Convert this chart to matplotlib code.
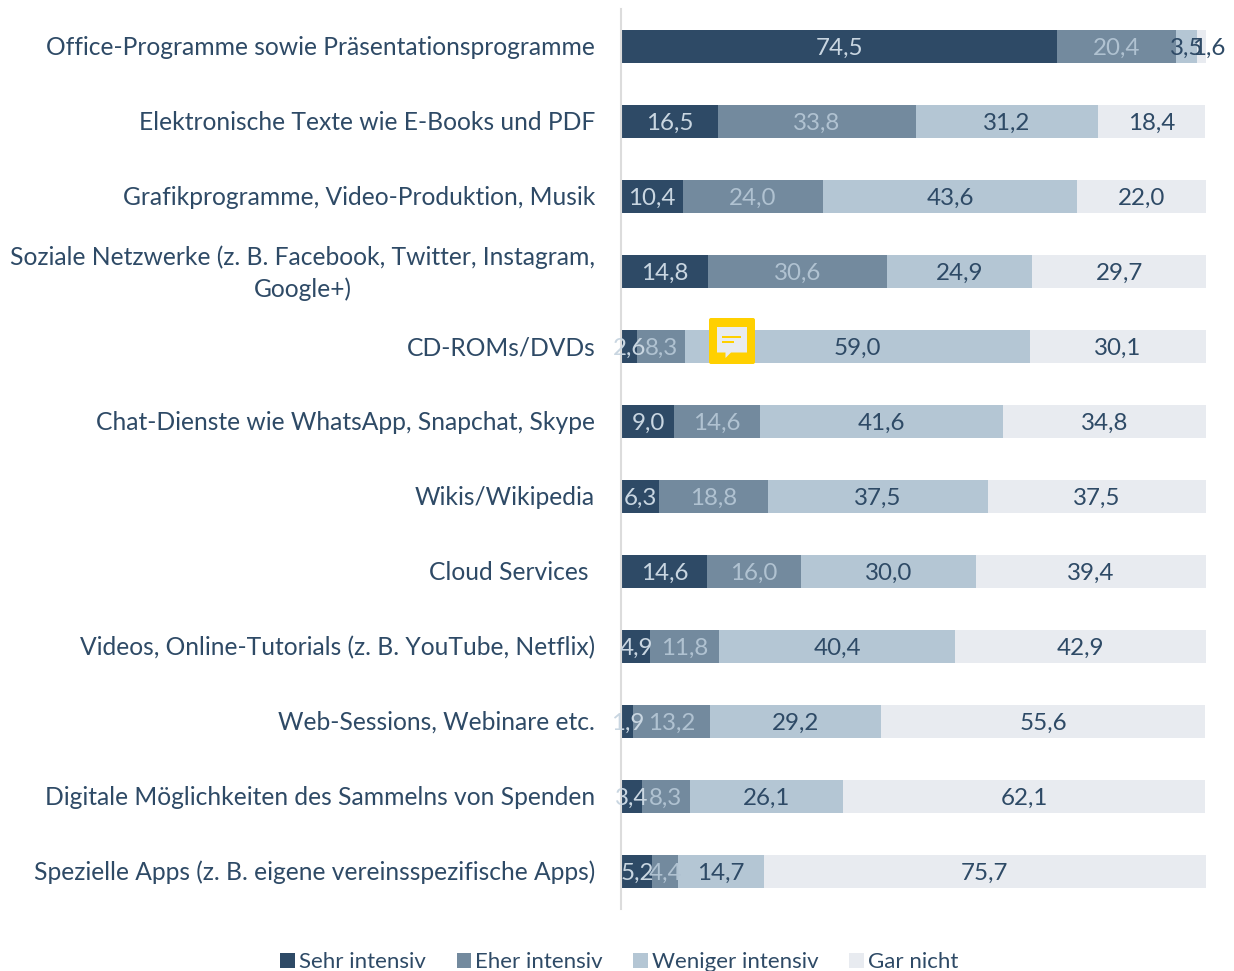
import matplotlib
matplotlib.use("Agg")
import matplotlib.pyplot as plt
from matplotlib.patches import FancyBboxPatch, Polygon, Rectangle
from matplotlib.transforms import Affine2D, ScaledTranslation

categories = [
    "Office-Programme sowie Präsentationsprogramme",
    "Elektronische Texte wie E-Books und PDF",
    "Grafikprogramme, Video-Produktion, Musik",
    "Soziale Netzwerke (z. B. Facebook, Twitter, Instagram,\nGoogle+)",
    "CD-ROMs/DVDs",
    "Chat-Dienste wie WhatsApp, Snapchat, Skype",
    "Wikis/Wikipedia",
    "Cloud Services ",
    "Videos, Online-Tutorials (z. B. YouTube, Netflix)",
    "Web-Sessions, Webinare etc.",
    "Digitale Möglichkeiten des Sammelns von Spenden",
    "Spezielle Apps (z. B. eigene vereinsspezifische Apps)",
]
sehr_intensiv = [74.5, 16.5, 10.4, 14.8, 2.6, 9.0, 6.3, 14.6, 4.9, 1.9, 3.4, 5.2]
eher_intensiv = [20.4, 33.8, 24.0, 30.6, 8.3, 14.6, 18.8, 16.0, 11.8, 13.2, 8.3, 4.4]
weniger_intensiv = [3.5, 31.2, 43.6, 24.9, 59.0, 41.6, 37.5, 30.0, 40.4, 29.2, 26.1, 14.7]
gar_nicht = [1.6, 18.4, 22.0, 29.7, 30.1, 34.8, 37.5, 39.4, 42.9, 55.6, 62.1, 75.7]
series_names = ["Sehr intensiv", "Eher intensiv", "Weniger intensiv", "Gar nicht"]

W, H = 1234, 971
TEXT = "#2E4A66"
plt.rcParams["font.family"] = ["Lato", "DejaVu Sans"]
fig = plt.figure(figsize=(W / 100, H / 100), dpi=100)
ax = fig.add_axes([621.8 / W, 1 - 909 / H, (1206 - 621.8) / W, 900 / H])

# spine placement resets the axis, so it comes before the ticks are set
for s in ["top", "right", "bottom"]:
    ax.spines[s].set_visible(False)
ax.spines["left"].set_color("#DCDCDC")
ax.spines["left"].set_linewidth(1.5)
ax.spines["left"].set_position(("outward", 0.8))

series = [sehr_intensiv, eher_intensiv, weniger_intensiv, gar_nicht]
colors = ["#2E4A66", "#738A9E", "#B4C6D4", "#E8EBF0"]
label_colors = ["#C9D6E1", "#B0C2D1", TEXT, TEXT]
left = [0.0] * len(categories)
y = list(range(len(categories)))
handles = []
for vals, name, c, lc in zip(series, series_names, colors, label_colors):
    bars = ax.barh(y, vals, left=left, height=0.44, color=c, label=name, linewidth=0)
    handles.append(bars)
    anns = ax.bar_label(bars, labels=[f"{v:.1f}".replace(".", ",") for v in vals],
                        label_type="center", color=lc, fontsize=17.4, clip_on=False, zorder=5)
    for a in anns:
        a.xyann = (0, -1.6)
    left = [a + b for a, b in zip(left, vals)]
# the narrow last segment's label sits pushed to the right in the reference
anns[0].xyann = (5, -1.6)

ax.set_xlim(0, 100)
ax.set_ylim(len(categories) - 0.5, -0.5)
ax.set_yticks(y)
ax.set_yticklabels(categories, fontsize=17.75, color=TEXT, multialignment="center", linespacing=1.47)
ax.tick_params(axis="y", length=0, pad=18.4)
for t in ax.get_yticklabels():
    dy = 3.6 if "\n" in t.get_text() else 0.7
    t.set_transform(t.get_transform() + ScaledTranslation(0, dy / 72, fig.dpi_scale_trans))
ax.xaxis.set_visible(False)

# legend
leg = fig.legend(handles=handles, loc="lower center", bbox_to_anchor=(619.5 / W, -0.001), ncol=4,
                 frameon=False, fontsize=16.0, labelcolor=TEXT, handlelength=0.65, handleheight=0.65,
                 handletextpad=0.2, columnspacing=1.37, borderpad=0, borderaxespad=0)

# comment icon (pixel coords, y downward)
px = Affine2D().scale(1, -1).translate(0, H)
fig.add_artist(FancyBboxPatch((709, 318), 46, 46, boxstyle="round,pad=0,rounding_size=2",
                              fc="#FFD000", ec="none", transform=px))
fig.add_artist(Polygon([(717, 327), (747, 327), (747, 352.5), (731, 352.5), (725.5, 358), (725.5, 352.5), (717, 352.5)],
                       closed=True, fc="#E8EBF0", ec="none", transform=px))
for yy, w in ((336, 19), (341, 12)):
    fig.add_artist(Rectangle((722, yy), w, 2, fc="#FFD000", ec="none", transform=px, zorder=3))

fig.savefig("out.png", dpi=100)
